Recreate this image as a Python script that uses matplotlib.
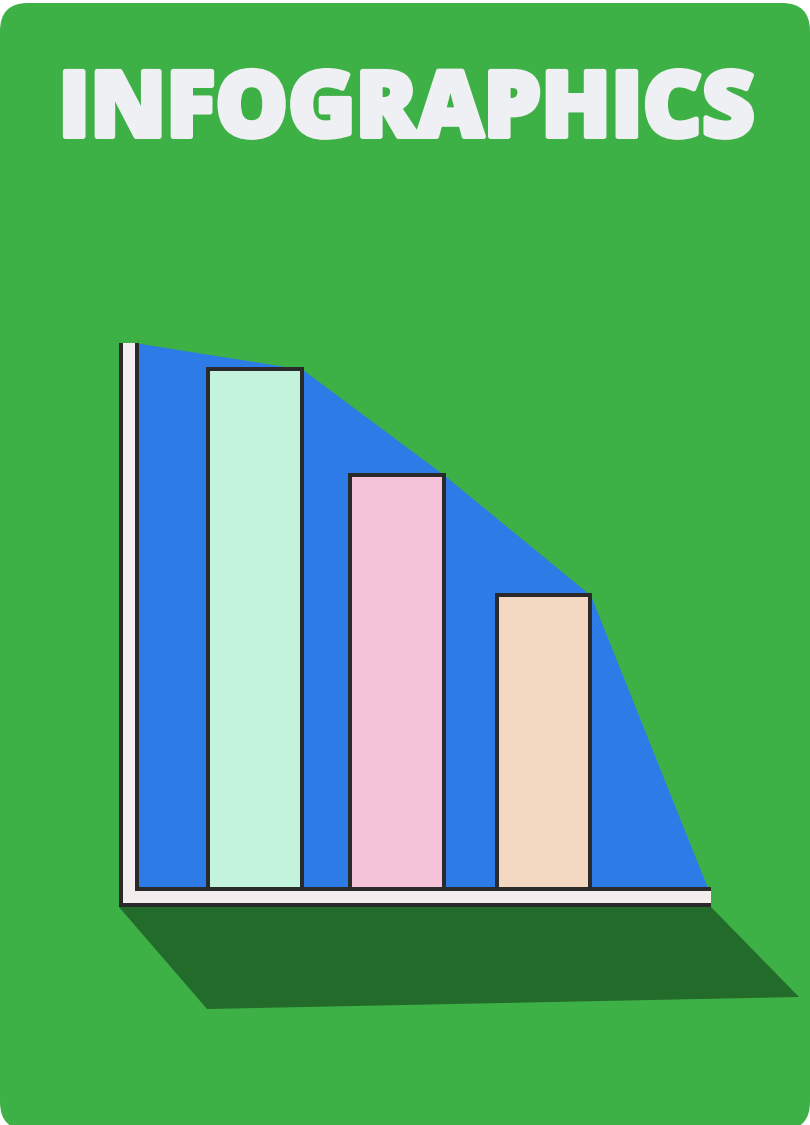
import matplotlib
matplotlib.use('Agg')
import matplotlib.pyplot as plt
import matplotlib.patheffects as pe
from matplotlib.patches import FancyBboxPatch, Polygon

# chart data
categories = ['A', 'B', 'C']
values = [95.2, 75.8, 53.8]
bar_colors = ['#C3F2DD', '#F4C2D9', '#F2D8C1']
area_start = 100   # area value where it meets the y axis
area_end = 0       # area value at the right end
title = 'INFOGRAPHICS'

W, H = 810, 1125
green = '#3EB146'
shadow = '#236B2A'
blue = '#2C7BE6'
dark = '#2A2A2A'
axis_white = '#F3EDED'
title_col = '#EFF0F4'
lw = 4 * 72 / 100  # 4 px

fig = plt.figure(figsize=(W / 100, H / 100), dpi=100)
fig.patch.set_facecolor('white')

# background card + shadow, pixel coordinates
bg = fig.add_axes([0, 0, 1, 1])
bg.set_xlim(0, W)
bg.set_ylim(H, 0)
bg.axis('off')
card = FancyBboxPatch((0, 3), W, H + 2, boxstyle='round,pad=0,rounding_size=28',
                      facecolor=green, edgecolor='none')
bg.add_patch(card)
bg.add_patch(Polygon([(119, 907), (207, 1009), (799, 997), (711, 907)],
                     closed=True, facecolor=shadow, edgecolor='none'))

# the chart itself
ax = fig.add_axes([137 / W, (H - 889) / H, (708 - 137) / W, 546 / H])
ax.patch.set_alpha(0)
x0, x1 = -0.82, 3.14
ax.set_xlim(x0, x1)
ax.set_ylim(0, 100)
ax.axis('off')

pos = [0, 0.985, 2]
width = 0.65
area_x = [x0] + [p + width / 2 for p in pos] + [x1]
area_y = [area_start] + values + [area_end]
ax.fill_between(area_x, area_y, 0, color=blue, linewidth=0, zorder=1)
ax.bar(pos, values, width=width, color=bar_colors, edgecolor=dark,
       linewidth=lw, zorder=3)

# L-shaped axis frame on top
fr = fig.add_axes([0, 0, 1, 1])
fr.set_xlim(0, W)
fr.set_ylim(H, 0)
fr.axis('off')
fr.patch.set_alpha(0)
fr.add_patch(Polygon([(121, 343), (137, 343), (137, 889), (711, 889), (711, 905), (121, 905)],
                     closed=True, facecolor=axis_white, edgecolor='none'))
fr.plot([121, 121, 711], [343, 905, 905], color=dark, lw=lw,
        solid_joinstyle='miter', solid_capstyle='butt')
fr.plot([137, 137, 711], [343, 889, 889], color=dark, lw=lw,
        solid_joinstyle='miter', solid_capstyle='butt')

# title, heavy, fitted to the width of the reference
sw = 5  # px of extra stroke
t = fig.text(406.5 / W, (H - 139 + sw / 2) / H, title, ha='center', va='baseline',
             fontsize=60, fontweight=800, family=['Open Sans', 'Lato', 'DejaVu Sans'],
             color=title_col)
t.set_path_effects([pe.withStroke(linewidth=sw * 0.72, foreground=title_col)])
fig.canvas.draw()
bb = t.get_window_extent()
t.set_fontsize(60 * (701 - sw) / bb.width)

fig.savefig('out.png', dpi=100, facecolor='white')
